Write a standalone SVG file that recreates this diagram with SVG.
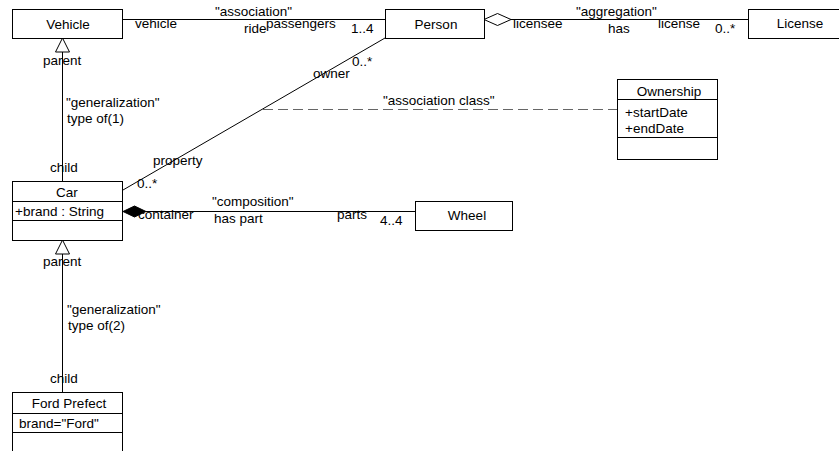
<svg xmlns="http://www.w3.org/2000/svg" width="839" height="451" viewBox="0 0 839 451">
<style>
text{font-family:"Liberation Sans",Arial,sans-serif;font-size:13.5px;fill:#000}
.c{text-anchor:middle}
.box{fill:#fff;stroke:#000;stroke-width:1}
.ln{stroke:#000;stroke-width:1;fill:none}
.dash{stroke:#666;stroke-width:1;fill:none;stroke-dasharray:10,5}
.hollow{fill:#fff;stroke:#000;stroke-width:1}
.solid{fill:#000;stroke:#000;stroke-width:1}
</style>
<rect width="839" height="451" fill="#fff"/>
<g id="connectors">
  <line class="ln" x1="122" y1="19.5" x2="385" y2="19.5"/>
  <line class="ln" x1="511" y1="19.5" x2="748" y2="19.5"/>
  <polygon class="hollow" points="484,19.5 497.5,13.5 511,19.5 497.5,25.5"/>
  <line class="ln" x1="385" y1="38" x2="123" y2="190"/>
  <line class="dash" x1="263" y1="109.5" x2="617" y2="109.5"/>
  <line class="ln" x1="62.5" y1="52" x2="62.5" y2="181"/>
  <polygon class="hollow" points="62.5,38 55.5,52 69.5,52"/>
  <line class="ln" x1="146" y1="211.5" x2="415" y2="211.5"/>
  <polygon class="solid" points="123,211.5 134.5,206 146,211.5 134.5,217"/>
  <line class="ln" x1="62.5" y1="254" x2="62.5" y2="392"/>
  <polygon class="hollow" points="62.5,240 55.5,254 69.5,254"/>
</g>
<g id="labels">
  <text x="215" y="16">"association"</text>
  <text x="135" y="28">vehicle</text>
  <text x="244" y="33">ride</text>
  <text x="266" y="28">passengers</text>
  <text x="351" y="33">1..4</text>
  <text x="576" y="16">"aggregation"</text>
  <text x="513" y="28">licensee</text>
  <text x="608" y="33">has</text>
  <text x="658" y="28">license</text>
  <text x="715" y="33">0..*</text>
  <text x="352" y="66">0..*</text>
  <text x="313" y="78">owner</text>
  <text x="383" y="105">"association class"</text>
  <text x="153" y="165">property</text>
  <text x="137" y="188">0..*</text>
  <text x="43" y="65">parent</text>
  <text x="66" y="107">"generalization"</text>
  <text x="67" y="123">type of(1)</text>
  <text x="50" y="172">child</text>
  <text x="212" y="206">"composition"</text>
  <text x="138" y="219">container</text>
  <text x="214" y="223">has part</text>
  <text x="337" y="219">parts</text>
  <text x="380" y="225">4..4</text>
  <text x="43" y="266">parent</text>
  <text x="67" y="314">"generalization"</text>
  <text x="68" y="330">type of(2)</text>
  <text x="50" y="383">child</text>
</g>
<g id="vehicle">
  <rect class="box" x="12.5" y="9.5" width="110" height="29"/>
  <text class="c" x="68" y="29">Vehicle</text>
</g>
<g id="person">
  <rect class="box" x="385.5" y="9.5" width="99" height="29"/>
  <text class="c" x="436" y="29">Person</text>
</g>
<g id="license">
  <rect class="box" x="748.5" y="9.5" width="95" height="29"/>
  <text class="c" x="800" y="28">License</text>
</g>
<g id="ownership">
  <rect class="box" x="617.5" y="79.5" width="100" height="80"/>
  <line class="ln" x1="617.5" y1="99.5" x2="717.5" y2="99.5"/>
  <line class="ln" x1="617.5" y1="137.5" x2="717.5" y2="137.5"/>
  <text class="c" x="669" y="96">Ownership</text>
  <text x="625" y="117">+startDate</text>
  <text x="625" y="133">+endDate</text>
</g>
<g id="car">
  <rect class="box" x="12.5" y="181.5" width="110" height="59"/>
  <line class="ln" x1="12.5" y1="201.5" x2="122.5" y2="201.5"/>
  <line class="ln" x1="12.5" y1="220.5" x2="122.5" y2="220.5"/>
  <text class="c" x="67" y="197">Car</text>
  <text x="15" y="216">+brand : String</text>
</g>
<g id="wheel">
  <rect class="box" x="415.5" y="201.5" width="97" height="29"/>
  <text class="c" x="467" y="220">Wheel</text>
</g>
<g id="fordprefect">
  <rect class="box" x="12.5" y="392.5" width="110" height="70"/>
  <line class="ln" x1="12.5" y1="413.5" x2="122.5" y2="413.5"/>
  <line class="ln" x1="12.5" y1="432.5" x2="122.5" y2="432.5"/>
  <text class="c" x="69" y="408">Ford Prefect</text>
  <text x="19" y="428">brand="Ford"</text>
</g>
</svg>
